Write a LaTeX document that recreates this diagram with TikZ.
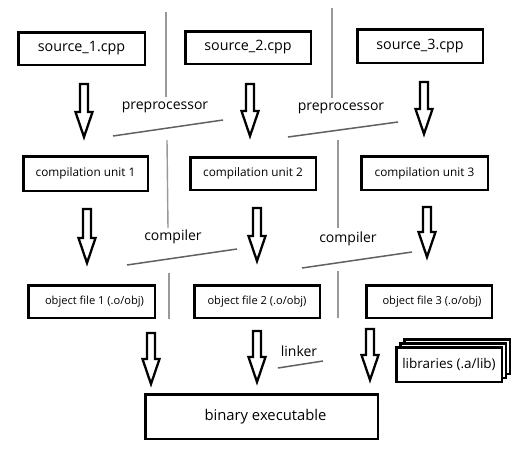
\documentclass[tikz,border=0pt]{standalone}
\usepackage{fontspec}
\setmainfont{Open Sans}
\tikzset{
  box/.style={draw, line width=2.5pt, fill=white, inner sep=0pt},
  lbl/.style={inner sep=0pt, font=\fontsize{14}{16}\selectfont},
  divider/.style={draw=black!40, line width=1.4pt},
  slash/.style={draw=black!62, line width=1.5pt},
  pics/blockarrow/.style={code={
    \draw[line width=2.3pt, line join=miter, fill=white]
      (-4,0) -- (4,0) -- (4,{#1-25}) -- (8.5,{#1-25}) -- (0,#1)
      -- (-8.5,{#1-25}) -- (-4,{#1-25}) -- cycle;}}
}
\begin{document}
\begin{tikzpicture}[x=1pt,y=-1pt]
\useasboundingbox (0,0) rectangle (512,451);
\fill[white] (0,0) rectangle (512,451);

% dividers
\draw[divider] (166,12) -- (166,97);
\draw[divider] (167,140) -- (168,228);
\draw[divider] (169,273) -- (169,319);
\draw[divider] (332,8) -- (332,98);
\draw[divider] (338,140) -- (338,228);
\draw[divider] (338,271) -- (338,318);

% row 1
\begin{scope}[every node/.append style={font=\fontsize{14.3}{17}\selectfont}]
\node[box, minimum width=126.5, minimum height=32.5] (s1) at (81.5,48.5) {source\_1.cpp};
\node[box, minimum width=125.5, minimum height=32.5] (s2) at (248,47.5) {source\_2.cpp};
\node[box, minimum width=125.5, minimum height=33.5] (s3) at (420,46) {source\_3.cpp};
\end{scope}

% row 2
\begin{scope}[every node/.append style={font=\fontsize{11.8}{14}\selectfont}]
\node[box, minimum width=124.5, minimum height=34.5] (c1) at (85.5,173.5) {compilation unit 1};
\node[box, minimum width=125.5, minimum height=32.5] (c2) at (253,173.5) {compilation unit 2};
\node[box, minimum width=126.5, minimum height=33.5] (c3) at (424.5,173) {compilation unit 3};
\end{scope}

% row 3
\begin{scope}[every node/.append style={font=\fontsize{11.1}{13}\selectfont}]
\node[box, minimum width=126.5, minimum height=32.5] (o1) at (91.5,301.5) {\hspace{6pt}object file 1 (.o/obj)};
\node[box, minimum width=125.5, minimum height=32.5] (o2) at (257,301.5) {object file 2 (.o/obj)};
\node[box, minimum width=125.5, minimum height=32.5] (o3) at (429,301.5) {\hspace{6pt}object file 3 (.o/obj)};
\end{scope}

% libraries stack
\node[box, minimum width=105.5, minimum height=34.5] (lib3) at (457,356.5) {};
\node[box, minimum width=105.5, minimum height=34.5] (lib2) at (453,360.5) {};
\node[box, minimum width=105.5, minimum height=34.5, font=\fontsize{13.5}{16}\selectfont] (lib) at (449,364.5) {libraries (.a/lib)};

% binary
\node[box, minimum width=232.5, minimum height=44.5, font=\fontsize{14.8}{17}\selectfont] (bin) at (261.5,416.5) {\hspace{8pt}binary executable};

% labels
\node[lbl] (pp1) at (165,107) {preprocessor};
\node[lbl] (pp2) at (341,108) {preprocessor};
\node[lbl] (cc1) at (173,237) {compiler};
\node[lbl] (cc2) at (348,239) {compiler};
\node[lbl] (ln) at (299,351) {linker};

% slashes
\draw[slash] (113,136) -- (223,120);
\draw[slash] (288,137) -- (398,122);
\draw[slash] (127,265) -- (237,249);
\draw[slash] (302,268) -- (412,252);
\draw[slash] (278,368) -- (323,361);

% block arrows
\pic (a1) at (84,84) {blockarrow=53};
\pic (a2) at (250,84) {blockarrow=52};
\pic (a3) at (424,82) {blockarrow=52};
\pic (b1) at (87,209) {blockarrow=54};
\pic (b2) at (257,208) {blockarrow=53};
\pic (b3) at (427,207) {blockarrow=50};
\pic (k1) at (151,333) {blockarrow=51};
\pic (k2) at (257,331) {blockarrow=51};
\pic (k3) at (370,329) {blockarrow=51};
\end{tikzpicture}
\end{document}
